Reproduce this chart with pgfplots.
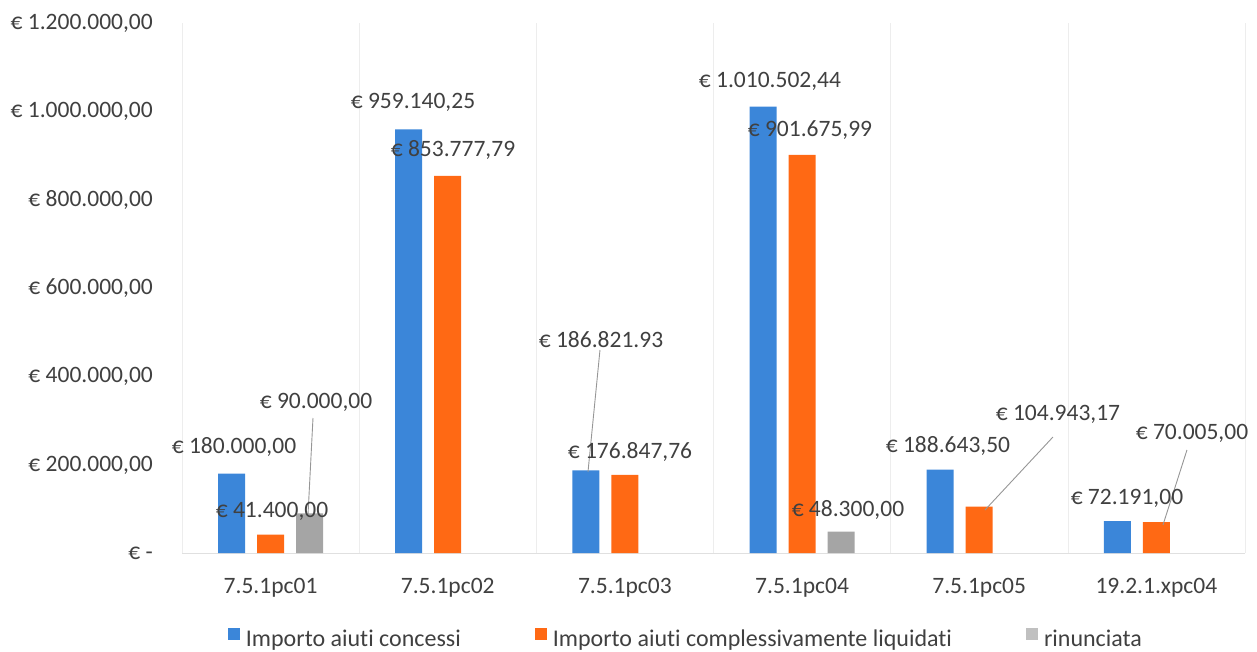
\documentclass[border=0pt]{standalone}
\usepackage{fontspec}
\setmainfont{Carlito}[Ligatures=NoCommon]
\usepackage{pgfplots}
\pgfplotsset{compat=1.18}
\definecolor{cblue}{RGB}{59,134,217}
\definecolor{corange}{RGB}{255,105,20}
\definecolor{cgray}{RGB}{165,165,165}
\definecolor{ctext}{RGB}{64,64,64}
\definecolor{cline}{RGB}{150,150,150}

\begin{document}
\fontsize{23.5bp}{28bp}\selectfont
\begin{tikzpicture}[font=\fontsize{23.5bp}{28bp}\selectfont]
\begin{axis}[name=ax, scale only axis, width=1063bp, height=530bp,
  xmin=-0.5, xmax=5.5, ymin=0, ymax=1200000,
  scaled y ticks=false,
  ybar=12bp, bar width=27bp,
  clip=false,
  xtick={0,1,2,3,4,5},
  xticklabels={7.5.1pc01,7.5.1pc02,7.5.1pc03,7.5.1pc04,7.5.1pc05,19.2.1.xpc04},
  minor xtick={-0.5,0.5,1.5,2.5,3.5,4.5,5.5},
  xminorgrids, minor grid style={black!7},
  ytick={0,200000,400000,600000,800000,1000000,1200000},
  yticklabels={{€ -\hspace{12bp}},{€ 200.000,00},{€ 400.000,00},{€ 600.000,00},{€ 800.000,00},{€ 1.000.000,00},{€ 1.200.000,00}},
  major tick length=0pt, minor tick length=0pt,
  axis x line*=bottom, axis y line*=left,
  y axis line style={draw=none}, x axis line style={black!12},
  xticklabel style={anchor=base, inner sep=0pt, yshift=-40bp, text=ctext},
  yticklabel style={anchor=base east, inner sep=0pt, xshift=-29bp, yshift=-6.5bp, text=ctext},
  legend columns=-1,
  legend style={draw=none, fill=none, at={(rel axis cs:0.043,-0.1625)}, anchor=west,
    inner sep=0pt, nodes={inner sep=0pt, text=ctext, font=\fontsize{24bp}{28bp}\selectfont},
    /tikz/every odd column/.append style={column sep=6bp},
    /tikz/every even column/.append style={column sep=74bp}},
]
\addplot[fill=cblue, draw=none, legend image code/.code={\fill[cblue] (0bp,0bp) rectangle (12bp,12bp);}]
  coordinates {(0,180000) (1,959140.25) (2,186821.93) (3,1010502.44) (4,188643.50) (5,72191)};
\addplot[fill=corange, draw=none, legend image code/.code={\fill[corange] (0bp,0bp) rectangle (12bp,12bp);}]
  coordinates {(0,41400) (1,853777.79) (2,176847.76) (3,901675.99) (4,104943.17) (5,70005)};
\addplot[fill=cgray, draw=none, legend image code/.code={\fill[cgray!70] (0bp,0bp) rectangle (12bp,12bp);}]
  coordinates {(0,90000) (3,48300)};
\legend{Importo aiuti concessi, Importo aiuti complessivamente liquidati, rinunciata}

% leader lines
\draw[cline, line width=0.9bp] (axis cs:0.2394,305660) -- (axis cs:0.2112,86038);
\draw[cline, line width=0.9bp] (axis cs:1.8593,459622) -- (axis cs:1.7916,183396);
\draw[cline, line width=0.9bp] (axis cs:4.4162,262641) -- (axis cs:4.0324,97358);
\draw[cline, line width=0.9bp] (axis cs:5.1725,233207) -- (axis cs:5.0371,63396);

% data labels
\begin{scope}[every node/.style={text=ctext, inner sep=0pt}]
\node at (axis cs:-0.2065,240000) {€ 180.000,00};
\node at (axis cs:0.2563,341887) {€ 90.000,00};
\node at (axis cs:0.008,95094) {€ 41.400,00};
\node at (axis cs:0.8038,1021132) {€ 959.140,25};
\node at (axis cs:1.0296,912453) {€ 853.777,79};
\node at (axis cs:1.865,482264) {€ 186.821.93};
\node at (axis cs:2.0286,228679) {€ 176.847,76};
\node at (axis cs:2.8188,1068679) {€ 1.010.502,44};
\node at (axis cs:3.0446,957736) {€ 901.675,99};
\node at (axis cs:3.259,97358) {€ 48.300,00};
\node at (axis cs:3.8235,242264) {€ 188.643,50};
\node at (axis cs:4.4444,314717) {€ 104.943,17};
\node at (axis cs:4.8338,124528) {€ 72.191,00};
\node at (axis cs:5.2008,271698) {€ 70.005,00};
\end{scope}
\end{axis}
\path ([xshift=-182bp,yshift=-99bp]ax.south west) rectangle ++(1257bp,652bp);
\end{tikzpicture}
\end{document}
